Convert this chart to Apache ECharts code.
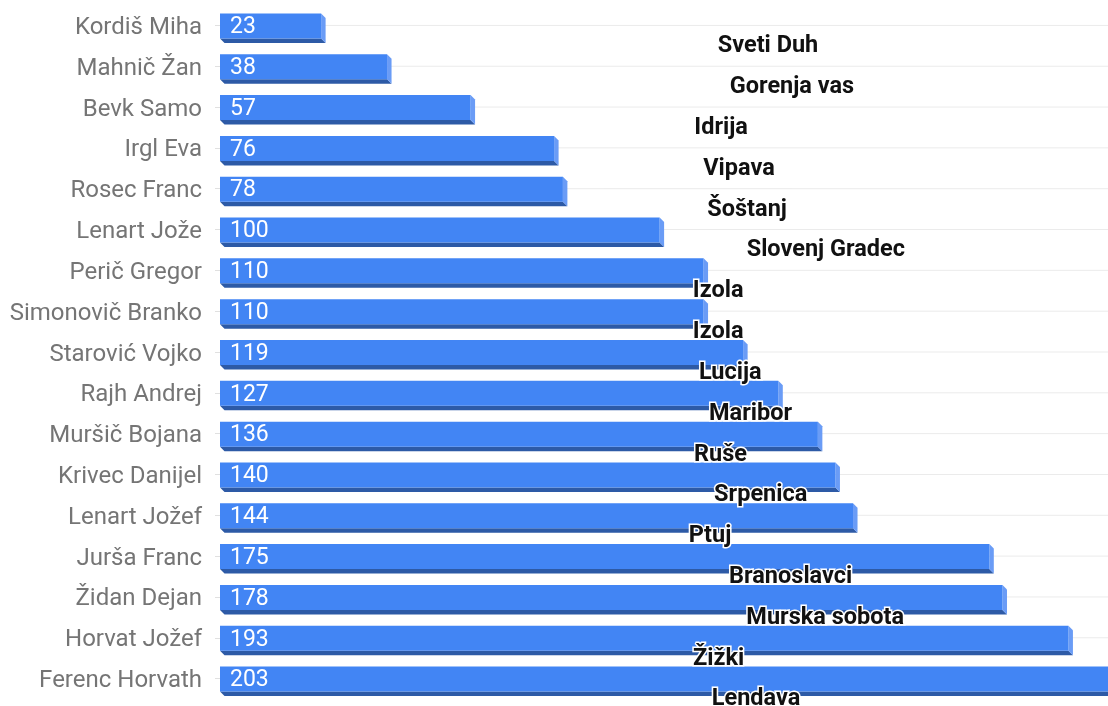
<!DOCTYPE html>
<html>
<head>
<meta charset="utf-8">
<title>Bar chart</title>
<script src="https://cdn.jsdelivr.net/npm/echarts@6/dist/echarts.min.js"></script>
<style>
  html, body { margin: 0; padding: 0; background: #fff; }
  #chart { width: 1108px; height: 706px; }
</style>
</head>
<body>
<div id="chart"></div>
<script>
// data
const names = ['Kordiš Miha', 'Mahnič Žan', 'Bevk Samo', 'Irgl Eva', 'Rosec Franc', 'Lenart Jože',
  'Perič Gregor', 'Simonovič Branko', 'Starović Vojko', 'Rajh Andrej', 'Muršič Bojana',
  'Krivec Danijel', 'Lenart Jožef', 'Jurša Franc', 'Židan Dejan', 'Horvat Jožef', 'Ferenc Horvath']
const values = [23, 38, 57, 76, 78, 100, 110, 110, 119, 127, 136, 140, 144, 175, 178, 193, 203]
const places = ['Sveti Duh', 'Gorenja vas', 'Idrija', 'Vipava', 'Šoštanj', 'Slovenj Gradec',
  'Izola', 'Izola', 'Lucija', 'Maribor', 'Ruše', 'Srpenica', 'Ptuj', 'Branoslavci',
  'Murska sobota', 'Žižki', 'Lendava']

const placeFont = 'bold 23.5px Roboto'
const placeAnchor = 106.8   // axis value where the annotation column starts

// text width helper for the annotations
const measureCtx = document.createElement('canvas').getContext('2d')
function textWidth(str) {
  measureCtx.font = placeFont
  return measureCtx.measureText(str).width
}

let chartDom = document.getElementById('chart')
let chart = echarts.init(chartDom)

function renderBar(params, api) {
  let i = api.value(0)
  let start = api.coord([0, i])
  let end = api.coord([api.value(1), i])
  let cs = params.coordSys
  let top = start[1] - 12
  let bot = start[1] + 13
  let d = 4.5
  let x0 = start[0]
  let x1 = end[0]
  return {
    type: 'group',
    children: [
      {
        type: 'line',
        shape: { x1: x0, y1: start[1], x2: cs.x + cs.width, y2: start[1] },
        style: { stroke: '#ebebeb', lineWidth: 1 }
      },
      {
        type: 'polygon',
        shape: { points: [[x0, bot], [x1, bot], [x1 + d, bot + d], [x0 + d, bot + d]] },
        style: { fill: '#2d5aa6' }
      },
      {
        type: 'polygon',
        shape: { points: [[x1, top], [x1 + d, top + d], [x1 + d, bot + d], [x1, bot]] },
        style: { fill: '#6a9cf6' }
      },
      {
        type: 'rect',
        shape: { x: x0, y: top, width: x1 - x0, height: bot - top },
        style: { fill: '#4285f4' }
      },
      {
        type: 'text',
        x: x0 + 10,
        y: start[1] + 2,
        style: {
          text: String(api.value(1)),
          fill: '#fff',
          font: '23px Roboto',
          verticalAlign: 'middle',
          align: 'left'
        }
      }
    ]
  }
}

function renderPlace(params, api) {
  let i = api.value(0)
  let p = api.coord([placeAnchor, i])
  let label = places[i]
  let w = textWidth(label)
  return {
    type: 'text',
    x: p[0] + (w - 44) / 2,
    y: p[1] + 21,
    style: {
      text: label,
      font: placeFont,
      fill: '#111',
      stroke: '#fff',
      lineWidth: 3,
      verticalAlign: 'middle',
      align: 'left'
    }
  }
}

const option = {
  animation: false,
  grid: { left: 220, right: 0, top: 5, bottom: 7 },
  xAxis: {
    type: 'value',
    min: 0,
    max: 202,
    show: false
  },
  yAxis: {
    type: 'category',
    inverse: true,
    data: names,
    axisLine: { show: false },
    axisTick: { show: true, alignWithLabel: true, length: 5, lineStyle: { color: '#e0e0e0' } },
    axisLabel: {
      margin: 18,
      formatter: v => '{n|' + v + '}',
      rich: {
        n: { color: '#757575', fontSize: 24, fontFamily: 'Roboto', padding: [5, 0, 0, 0] }
      }
    },
    splitLine: { show: false }
  },
  series: [
    {
      type: 'custom',
      renderItem: renderBar,
      clip: false,
      encode: { x: 1, y: 0 },
      data: values.map((v, i) => [i, v])
    },
    {
      type: 'custom',
      renderItem: renderPlace,
      clip: false,
      z: 5,
      encode: { y: 0 },
      data: places.map((p, i) => [i])
    }
  ]
}

chart.setOption(option)
</script>
</body>
</html>
